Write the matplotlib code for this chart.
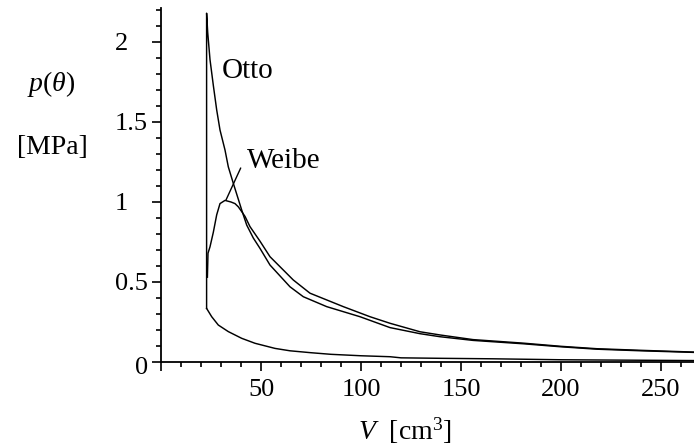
import matplotlib
matplotlib.use("Agg")
import matplotlib.pyplot as plt
from matplotlib.ticker import MultipleLocator, FixedLocator
import matplotlib.transforms as mtrans

plt.rcParams['font.family'] = ['Liberation Serif', 'DejaVu Serif']
plt.rcParams['mathtext.fontset'] = 'custom'
plt.rcParams['mathtext.rm'] = 'Liberation Serif'
plt.rcParams['mathtext.it'] = 'Liberation Serif:italic'

# ---------------- data ----------------
# Otto cycle: combustion at constant volume then expansion
V_otto = [22.8, 22.8, 23.35, 24.5, 26.15, 27.85, 29.5, 32.0, 33.65, 36.15, 40.35,
          42.85, 46.15, 49.5, 54.5, 64.5, 71.15, 82.85, 99.5, 114.5, 129.5,
          139.5, 156.0, 181.0, 200.0, 218.0, 240.0, 266.5]
p_otto = [0.335, 2.18, 2.06, 1.89, 1.73, 1.575, 1.45, 1.325, 1.22, 1.117, 0.95,
          0.856, 0.775, 0.71, 0.606, 0.47, 0.408, 0.346, 0.283, 0.215, 0.177,
          0.158, 0.135, 0.114, 0.095, 0.08, 0.07, 0.06]

# Weibe combustion model
V_weibe = [23.2, 23.5, 24.5, 26.15, 27.85, 29.5, 32.0, 35.0, 37.0, 38.65, 40.35,
           42.0, 44.5, 49.5, 54.5, 66.15, 74.5, 91.15, 104.5, 114.5, 129.5,
           139.5, 156.0, 181.0, 200.0, 218.0, 240.0, 266.5]
p_weibe = [0.53, 0.68, 0.72, 0.81, 0.92, 0.99, 1.01, 1.0, 0.99, 0.97, 0.94,
           0.91, 0.846, 0.755, 0.658, 0.5125, 0.43, 0.346, 0.283, 0.242, 0.189,
           0.169, 0.14, 0.118, 0.098, 0.083, 0.073, 0.062]

# Compression stroke
V_comp = [22.8, 25.35, 28.65, 33.65, 40.35, 47.0, 57.0, 64.5, 75.0, 85.0, 100.0,
          114.5, 120.0, 140.0, 166.0, 200.0, 266.5]
p_comp = [0.335, 0.283, 0.231, 0.19, 0.148, 0.117, 0.085, 0.07, 0.058, 0.048, 0.039,
          0.033, 0.026, 0.023, 0.02, 0.014, 0.009]

x_ticks = [0, 50, 100, 150, 200, 250]
x_ticklabels = ["", "50", "100", "150", "200", "250"]
y_ticks = [0, 0.5, 1, 1.5, 2]
y_ticklabels = ["0", "0.5", "1", "1.5", "2"]

# ---------------- figure ----------------
W, H = 694, 447
fig = plt.figure(figsize=(W / 100, H / 100), dpi=100)
ax = fig.add_axes([161 / W, (H - 362) / H, (W - 161) / W, (362 - 8) / H])

lw = 1.05
ax.plot(V_comp, p_comp, color='black', lw=lw)
ax.plot(V_otto, p_otto, color='black', lw=lw)
ax.plot(V_weibe, p_weibe, color='black', lw=lw)

ax.set_xlim(0, 266.5)
ax.set_ylim(0, 2.2125)

for s in ['top', 'right']:
    ax.spines[s].set_visible(False)
for s in ['left', 'bottom']:
    ax.spines[s].set_linewidth(1.3)

ax.xaxis.set_major_locator(FixedLocator(x_ticks))
ax.set_xticklabels(x_ticklabels)
ax.xaxis.set_minor_locator(MultipleLocator(10))
ax.yaxis.set_major_locator(FixedLocator(y_ticks))
ax.set_yticklabels(y_ticklabels)
ax.yaxis.set_minor_locator(MultipleLocator(0.1))

ax.tick_params(axis='both', which='major', direction='out', length=6.5, width=1.2,
               labelsize=19, color='black')
ax.tick_params(axis='both', which='minor', direction='out', length=3.6, width=1.2,
               color='black')
ax.tick_params(axis='x', which='major', pad=6)
ax.tick_params(axis='y', which='major', pad=3)

# Maple places integer labels further left
for lab in ax.get_yticklabels():
    if lab.get_text() in ("1", "2"):
        lab.set_transform(lab.get_transform() +
                          mtrans.ScaledTranslation(-20 / 100, 0, fig.dpi_scale_trans))
    if lab.get_text() == "0":
        lab.set_transform(lab.get_transform() +
                          mtrans.ScaledTranslation(0, -4 / 100, fig.dpi_scale_trans))

# curve labels
ax.text(30.35, 1.775, "Otto", fontsize=21, ha='left', va='baseline')
ax.text(42.85, 1.2125, "Weibe", fontsize=21, ha='left', va='baseline')
ax.annotate("", xy=(32.5, 1.0125), xytext=(39.85, 1.2125),
            arrowprops=dict(arrowstyle='-', color='black', lw=1.0,
                            shrinkA=0, shrinkB=0))

# axis labels
fig.text(51 / W, 1 - 84 / H, r"$p(\theta)$", fontsize=20, ha='center', va='center')
fig.text(52 / W, 1 - 148 / H, "[MPa]", fontsize=20, ha='center', va='center')
fig.text(405 / W, 1 - 440 / H, r"$V$  [cm$^3$]", fontsize=20, ha='center', va='baseline')

fig.savefig("out.png", dpi=100)
